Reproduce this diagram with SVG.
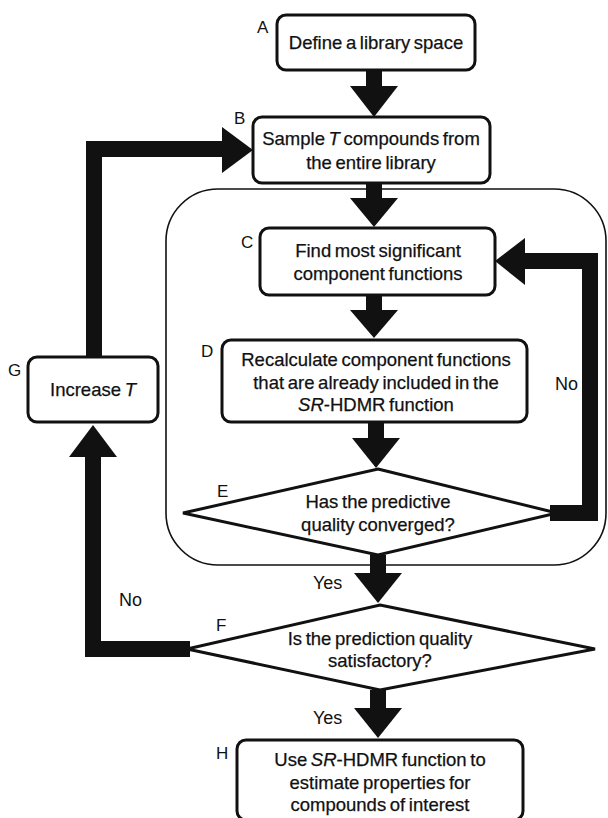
<svg xmlns="http://www.w3.org/2000/svg" width="608" height="818" viewBox="0 0 608 818">
<style>
.box{fill:#fff;stroke:#111;stroke-width:3}
.dia{fill:#fff;stroke:#111;stroke-width:3;stroke-linejoin:miter}
.t{font-family:"Liberation Sans",Arial,sans-serif;font-size:18.5px;word-spacing:-1.5px;fill:#111;stroke:#111;stroke-width:0.25;text-anchor:middle}
.lbl{font-family:"Liberation Sans",Arial,sans-serif;font-size:17px;fill:#111}
.bar{fill:none;stroke:#111;stroke-width:16;stroke-linejoin:miter;stroke-linecap:butt}
.head{fill:#111}
</style>
<rect id="container" x="166" y="189" width="440" height="376" rx="52" fill="none" stroke="#111" stroke-width="1.6"/>
<g id="connectors">
  <path class="bar" d="M374 70V88"/><polygon class="head" points="350,86 398,86 374,117"/>
  <path class="bar" d="M374 183V200"/><polygon class="head" points="350,198 398,198 374,227"/>
  <path class="bar" d="M374 295V312"/><polygon class="head" points="350,310 398,310 374,338"/>
  <path class="bar" d="M376 422V440"/><polygon class="head" points="352,438 400,438 376,468"/>
  <path class="bar" d="M378 555V575"/><polygon class="head" points="354,573 402,573 378,603"/>
  <path class="bar" d="M378 690V710"/><polygon class="head" points="354,708 402,708 378,738"/>
  <path class="bar" d="M550 513H590V261H522"/><polygon class="head" points="525,238 525,285 495,261"/>
  <path class="bar" d="M190 649H93V455"/><polygon class="head" points="69,457 117,457 93,425"/>
  <path class="bar" d="M94 357V149H225"/><polygon class="head" points="222,127 222,173 253,150"/>
  <text class="lbl" x="313" y="589" style="font-size:18px">Yes</text>
  <text class="lbl" x="313" y="724" style="font-size:18px">Yes</text>
  <text class="lbl" x="555" y="390" style="font-size:18px">No</text>
  <text class="lbl" x="119" y="606" style="font-size:18px">No</text>
</g>
<g id="A">
  <rect class="box" x="277" y="15" width="198" height="55" rx="9"/>
  <text class="t" x="376" y="49">Define a library space</text>
  <text class="lbl" x="257" y="33">A</text>
</g>
<g id="B">
  <rect class="box" x="253" y="117" width="237" height="66" rx="9"/>
  <text class="t" x="371" y="145">Sample <tspan font-style="italic">T</tspan> compounds from</text>
  <text class="t" x="371" y="169">the entire library</text>
  <text class="lbl" x="234" y="124">B</text>
</g>
<g id="C">
  <rect class="box" x="260" y="228" width="235" height="67" rx="9"/>
  <text class="t" x="378" y="257">Find most significant</text>
  <text class="t" x="378" y="280">component functions</text>
  <text class="lbl" x="241" y="248">C</text>
</g>
<g id="D">
  <rect class="box" x="222" y="340" width="305" height="82" rx="9"/>
  <text class="t" x="376" y="366">Recalculate component functions</text>
  <text class="t" x="376" y="389">that are already included in the</text>
  <text class="t" x="376" y="411"><tspan font-style="italic">SR</tspan>-HDMR function</text>
  <text class="lbl" x="201" y="357">D</text>
</g>
<g id="E">
  <polygon class="dia" points="378,469 557,513 378,555 183,513"/>
  <text class="t" x="378" y="508">Has the predictive</text>
  <text class="t" x="378" y="531">quality converged?</text>
  <text class="lbl" x="217" y="497">E</text>
</g>
<g id="F">
  <polygon class="dia" points="380,605 595,649 380,690 187,649"/>
  <text class="t" x="380" y="645">Is the prediction quality</text>
  <text class="t" x="380" y="667">satisfactory?</text>
  <text class="lbl" x="216" y="631">F</text>
</g>
<g id="G">
  <rect class="box" x="28" y="357" width="130" height="65" rx="9"/>
  <text class="t" x="93" y="396">Increase <tspan font-style="italic">T</tspan></text>
  <text class="lbl" x="8" y="376">G</text>
</g>
<g id="H">
  <rect class="box" x="237" y="740" width="286" height="80" rx="9"/>
  <text class="t" x="380" y="766">Use <tspan font-style="italic">SR</tspan>-HDMR function to</text>
  <text class="t" x="380" y="789">estimate properties for</text>
  <text class="t" x="380" y="811">compounds of interest</text>
  <text class="lbl" x="216" y="759">H</text>
</g>
</svg>
